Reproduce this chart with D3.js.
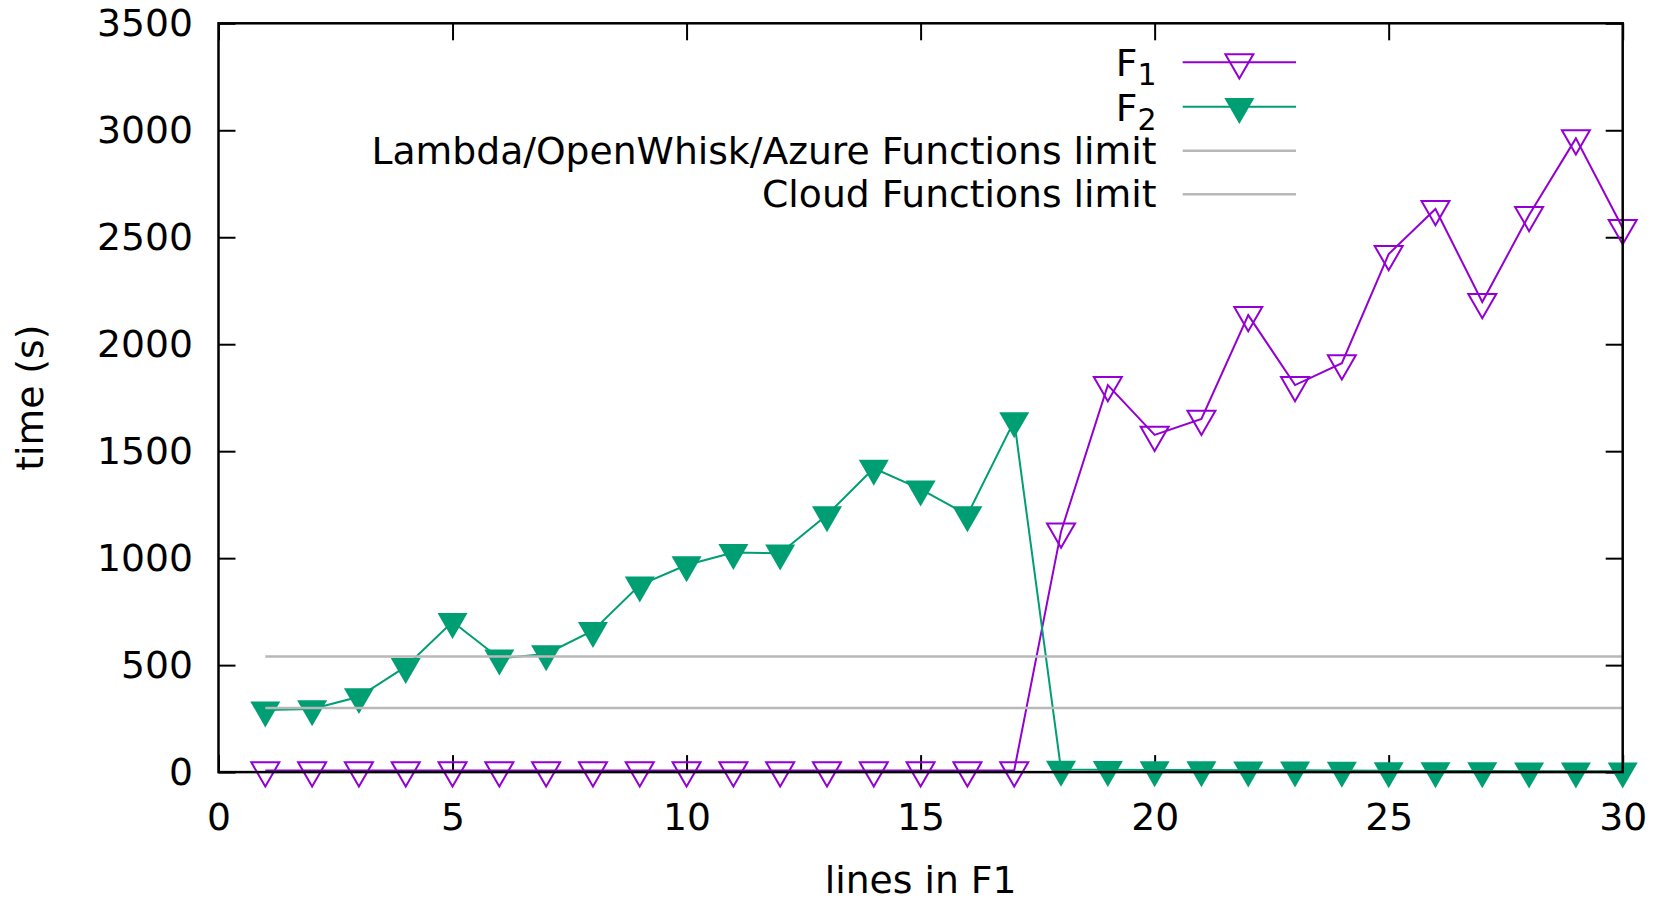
<!DOCTYPE html>
<html>
<head>
<meta charset="utf-8">
<script src="https://cdn.jsdelivr.net/npm/d3@7"></script>
<style>
  body { margin: 0; background: #fff; }
  text { font-family: "DejaVu Sans", sans-serif; fill: #000; }
</style>
</head>
<body>
<div id="chart-area"></div>
<script>
// values
const lines = [1, 2, 3, 4, 5, 6, 7, 8, 9, 10, 11, 12, 13, 14, 15, 16, 17, 18, 19, 20, 21, 22, 23, 24, 25, 26, 27, 28, 29, 30];
const f1Times = [8, 8, 8, 8, 8, 8, 8, 8, 8, 8, 8, 8, 8, 8, 8, 8, 8,
    1124, 1809, 1576, 1651, 2136, 1809, 1911, 2421, 2632, 2197, 2604, 2962, 2543];
const f2Times = [290, 295, 352, 493, 703, 532, 552, 661, 874, 968, 1026, 1023, 1202, 1420, 1323, 1202, 1642,
    12, 11, 10, 10, 9, 9, 8, 6, 5, 5, 4, 4, 4];
const limitNames = ["Lambda/OpenWhisk/Azure Functions limit", "Cloud Functions limit"];
const limitValues = [300, 540];
const xTicks = [0, 5, 10, 15, 20, 25, 30];
const yTicks = [0, 500, 1000, 1500, 2000, 2500, 3000, 3500];

const margin = { top: 23.3, right: 40.3, bottom: 127.9, left: 218.5 };
const width = 1663 - margin.left - margin.right;
const height = 900 - margin.top - margin.bottom;
const fontSize = 37.7;

const purple = "#9400d3";
const green = "#009e73";
const gray = "#b8b8b8";

const svg = d3.select('#chart-area')
    .append('svg')
    .attr("width", 1663)
    .attr("height", 900);

const g = svg.append("g")
    .attr("transform", `translate(${margin.left}, ${margin.top})`);

const x = d3.scaleLinear()
    .domain([0, 30])
    .range([0, width]);

const y = d3.scaleLinear()
    .domain([0, 3500])
    .range([height, 0]);

// axes, ticks pointing inward, mirrored on top / right
const yAxis = g.append("g")
    .call(d3.axisLeft(y).tickValues(yTicks).tickSize(-17).tickPadding(25.5).tickFormat(d3.format("d")));
const yAxisR = g.append("g")
    .attr("transform", `translate(${width},0)`)
    .call(d3.axisRight(y).tickValues(yTicks).tickSize(-17).tickFormat(""));
const xAxis = g.append("g")
    .attr("transform", `translate(0,${height})`)
    .call(d3.axisBottom(x).tickValues(xTicks).tickSize(-17).tickPadding(31).tickFormat(d3.format("d")));
const xAxisT = g.append("g")
    .call(d3.axisTop(x).tickValues(xTicks).tickSize(-17).tickFormat(""));

[yAxis, yAxisR, xAxis, xAxisT].forEach(a => {
    a.select(".domain").remove();
    a.selectAll("line").attr("stroke", "#000").attr("stroke-width", 2);
    a.selectAll("text")
        .attr("font-size", fontSize)
        .attr("font-family", "DejaVu Sans")
        .attr("fill", "#000");
});

// axis titles
g.append("text")
    .attr("x", width / 2)
    .attr("y", 893 - margin.top)
    .attr("text-anchor", "middle")
    .attr("font-size", fontSize)
    .text("lines in F1");

svg.append("text")
    .attr("transform", `translate(43, ${margin.top + height / 2}) rotate(-90)`)
    .attr("text-anchor", "middle")
    .attr("font-size", fontSize)
    .text("time (s)");

const line = d3.line()
    .x(d => x(d[0]))
    .y(d => y(d[1]));

const openTri = d3.symbol().type(d3.symbolTriangle).size(339)();
const fullTri = d3.symbol().type(d3.symbolTriangle).size(390)();

// F1
const f1Data = lines.map((l, i) => [l, f1Times[i]]);
g.append("path")
    .datum(f1Data)
    .attr("fill", "none")
    .attr("stroke", purple)
    .attr("stroke-width", 2)
    .attr("d", line);
g.selectAll(".f1pt")
    .data(f1Data)
    .enter()
    .append("path")
    .attr("class", "f1pt")
    .attr("d", openTri)
    .attr("transform", d => `translate(${x(d[0])},${y(d[1])}) rotate(180)`)
    .attr("fill", "none")
    .attr("stroke", purple)
    .attr("stroke-width", 2);

// F2
const f2Data = lines.map((l, i) => [l, f2Times[i]]);
g.append("path")
    .datum(f2Data)
    .attr("fill", "none")
    .attr("stroke", green)
    .attr("stroke-width", 2)
    .attr("d", line);
g.selectAll(".f2pt")
    .data(f2Data)
    .enter()
    .append("path")
    .attr("class", "f2pt")
    .attr("d", fullTri)
    .attr("transform", d => `translate(${x(d[0])},${y(d[1])}) rotate(180)`)
    .attr("fill", green);

// limits
limitValues.forEach(v => {
    g.append("path")
        .datum([[lines[0], v], [lines[lines.length - 1], v]])
        .attr("fill", "none")
        .attr("stroke", gray)
        .attr("stroke-width", 2.5)
        .attr("d", line);
});

// border
g.append("rect")
    .attr("width", width)
    .attr("height", height)
    .attr("fill", "none")
    .attr("stroke", "#000")
    .attr("stroke-width", 2.5);

// legend
const legX1 = 1182.7, legX2 = 1296, legText = 1156.5;
const rows = [62.3, 106.7, 150.7, 194.3];
const legend = svg.append("g");

function subLabel(rowY, sub) {
    const t = legend.append("text")
        .attr("x", legText)
        .attr("y", rowY + 14)
        .attr("text-anchor", "end")
        .attr("font-size", fontSize);
    t.append("tspan").text("F");
    t.append("tspan").attr("font-size", 30).attr("dy", 9).text(sub);
}

subLabel(rows[0], "1");
subLabel(rows[1], "2");
limitNames.forEach((name, i) => {
    legend.append("text")
        .attr("x", legText)
        .attr("y", rows[i + 2] + 13)
        .attr("text-anchor", "end")
        .attr("font-size", fontSize)
        .text(name);
});

legend.append("line")
    .attr("x1", legX1).attr("x2", legX2)
    .attr("y1", rows[0]).attr("y2", rows[0])
    .attr("stroke", purple).attr("stroke-width", 2);
legend.append("path")
    .attr("d", openTri)
    .attr("transform", `translate(${(legX1 + legX2) / 2},${rows[0]}) rotate(180)`)
    .attr("fill", "none").attr("stroke", purple).attr("stroke-width", 2);
legend.append("line")
    .attr("x1", legX1).attr("x2", legX2)
    .attr("y1", rows[1]).attr("y2", rows[1])
    .attr("stroke", green).attr("stroke-width", 2);
legend.append("path")
    .attr("d", fullTri)
    .attr("transform", `translate(${(legX1 + legX2) / 2},${rows[1]}) rotate(180)`)
    .attr("fill", green);
[rows[2], rows[3]].forEach(ry => {
    legend.append("line")
        .attr("x1", legX1).attr("x2", legX2)
        .attr("y1", ry).attr("y2", ry)
        .attr("stroke", gray).attr("stroke-width", 2.5);
});
</script>
</body>
</html>
